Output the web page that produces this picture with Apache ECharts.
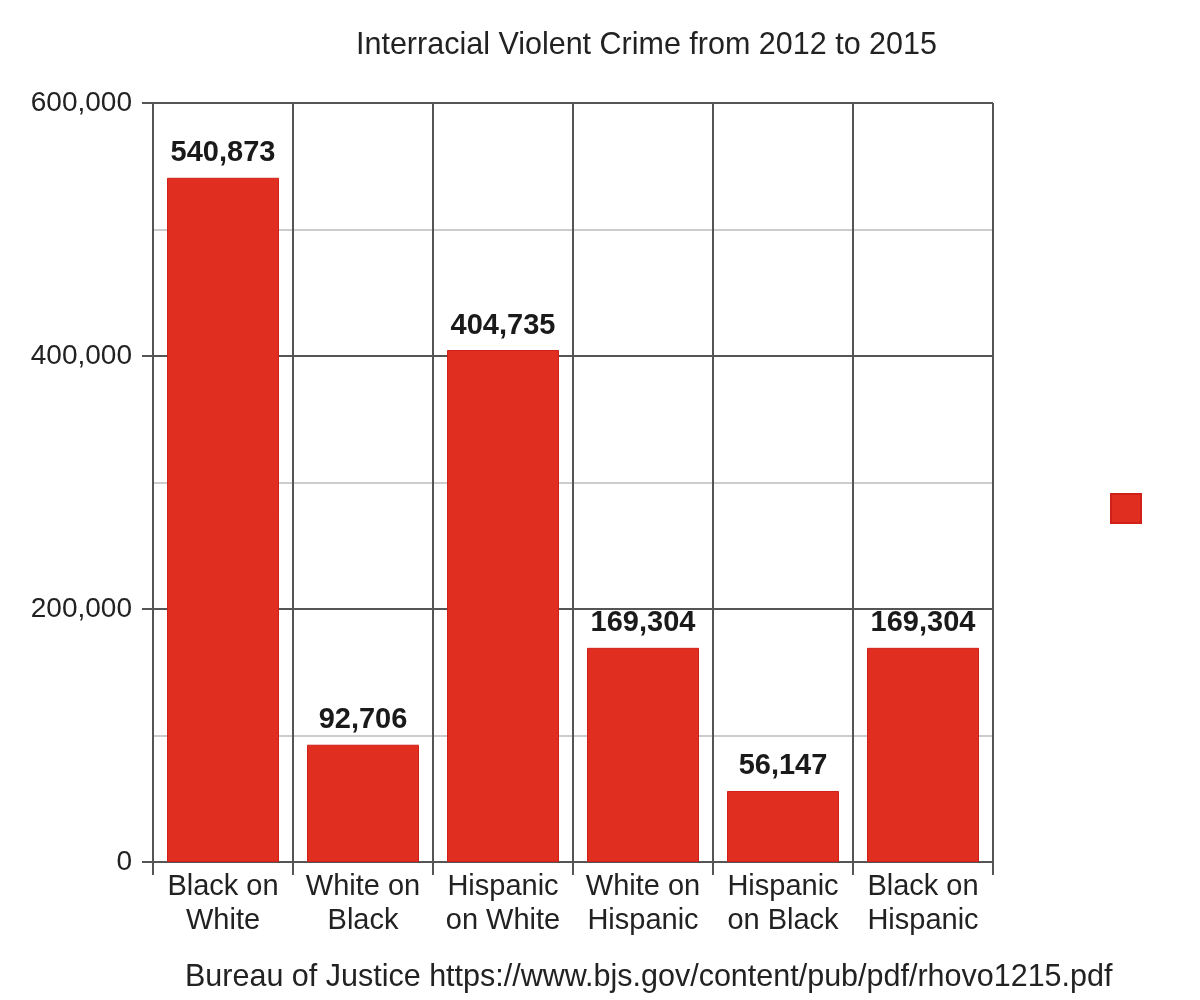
<!DOCTYPE html>
<html><head><meta charset="utf-8">
<script src="https://cdn.jsdelivr.net/npm/echarts@6/dist/echarts.min.js"></script>
<style>html,body{margin:0;padding:0;background:#fff}#c{width:1200px;height:1000px}</style>
</head><body><div id="c"></div>
<script>
const categories = ['Black on\nWhite','White on\nBlack','Hispanic\non White','White on\nHispanic','Hispanic\non Black','Black on\nHispanic'];
const values = [540873, 92706, 404735, 169304, 56147, 169304];
const titleText = 'Interracial Violent Crime from 2012 to 2015';
const sourceText = 'Bureau of Justice https://www.bjs.gov/content/pub/pdf/rhovo1215.pdf';
const font = '"Liberation Sans", Arial, sans-serif';
const chart = echarts.init(document.getElementById('c'));
chart.setOption({
  backgroundColor: '#fff',
  animation: false,
  title: [
    {text: titleText, left: 356, top: 30, padding: 0, textStyle: {fontFamily: font, fontSize: 30.5, fontWeight: 'normal', color: '#222'}},
    {text: sourceText, left: 185, top: 962, padding: 0, textStyle: {fontFamily: font, fontSize: 30.5, fontWeight: 'normal', color: '#222'}}
  ],
  legend: {left: 1105, top: 488, itemWidth: 30, itemHeight: 29, icon: 'rect', formatter: () => '', data: ['Crimes']},
  grid: {left: 153, right: 207, top: 103, bottom: 138},
  xAxis: {
    type: 'category', data: categories, boundaryGap: true,
    axisLine: {show: true, lineStyle: {color: '#555', width: 2}},
    axisTick: {show: true, interval: 0, length: 13, lineStyle: {color: '#555', width: 2}},
    splitLine: {show: true, interval: 0, lineStyle: {color: '#555', width: 2}},
    axisLabel: {interval: 0, fontFamily: font, fontSize: 29, color: '#222', lineHeight: 34, margin: 8}
  },
  yAxis: {
    type: 'value', min: 0, max: 600000, interval: 200000,
    axisLine: {show: true, lineStyle: {color: '#555', width: 2}},
    axisTick: {show: true, length: 11, lineStyle: {color: '#555', width: 2}},
    splitLine: {show: true, lineStyle: {color: '#555', width: 2}},
    minorTick: {show: false, splitNumber: 2},
    minorSplitLine: {show: true, lineStyle: {color: '#ccc', width: 2}},
    axisLabel: {fontFamily: font, fontSize: 28, color: '#222', margin: 21,
      formatter: v => v.toLocaleString('en-US')}
  },
  series: [{
    name: 'Crimes', type: 'bar', data: values, barCategoryGap: '20%',
    itemStyle: {color: '#e02f20', borderColor: '#d0201a', borderWidth: 1},
    label: {show: true, position: 'top', distance: 10, fontFamily: font, fontSize: 29, fontWeight: 'bold', color: '#1a1a1a',
      formatter: p => p.value.toLocaleString('en-US')}
  }]
});
</script></body></html>
